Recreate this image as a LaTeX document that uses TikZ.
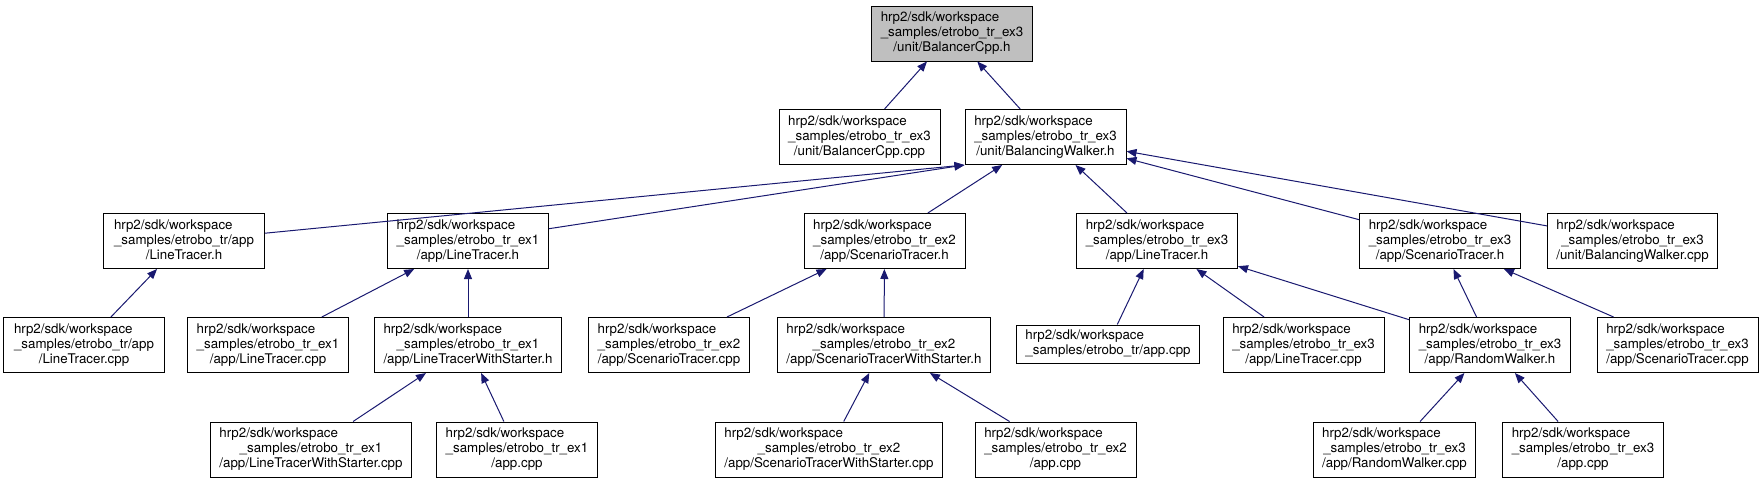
\documentclass[tikz,border=0pt]{standalone}
\usepackage{fontspec}
\setmainfont{TeX Gyre Heros}
\usepackage{tikz}
\usetikzlibrary{arrows.meta}
\usepackage{xcolor}
\definecolor{edgeblue}{RGB}{25,25,112}
\definecolor{rootgray}{RGB}{191,191,191}

% file label: first line flush left, the rest centred
\newcommand{\flbl}[2]{\begin{tabular}{@{}c@{}}\multicolumn{1}{@{}l@{}}{hrp2/sdk/workspace}\\#1\\#2\end{tabular}}

\begin{document}
\begin{tikzpicture}[x=1pt,y=-1pt,
    filebox/.style={draw=black,line width=1pt,fill=white,inner xsep=9pt,inner ysep=2pt,
      minimum width=161pt,minimum height=55pt,font=\fontsize{13.33}{15}\selectfont},
    incl/.style={edgeblue,line width=1pt,-{Triangle[length=10pt,width=8pt]}}]
  \useasboundingbox (0,0) rectangle (1763,483);

  % row 1 and 2
  \node[filebox,fill=rootgray] (balh) at (952,33.5) {\flbl{\_samples/etrobo\_tr\_ex3}{/unit/BalancerCpp.h}};
  \node[filebox] (balcpp) at (859.5,137) {\flbl{\_samples/etrobo\_tr\_ex3}{/unit/BalancerCpp.cpp}};
  \node[filebox] (bwh) at (1045.5,137) {\flbl{\_samples/etrobo\_tr\_ex3}{/unit/BalancingWalker.h}};

  % row 3
  \node[filebox] (trlth) at (184,241) {\flbl{\_samples/etrobo\_tr/app}{/LineTracer.h}};
  \node[filebox] (exalth) at (468,241) {\flbl{\_samples/etrobo\_tr\_ex1}{/app/LineTracer.h}};
  \node[filebox] (exbsth) at (884.5,241) {\flbl{\_samples/etrobo\_tr\_ex2}{/app/ScenarioTracer.h}};
  \node[filebox] (exclth) at (1157,241) {\flbl{\_samples/etrobo\_tr\_ex3}{/app/LineTracer.h}};
  \node[filebox] (excsth) at (1440,241) {\flbl{\_samples/etrobo\_tr\_ex3}{/app/ScenarioTracer.h}};
  \node[filebox] (bwcpp) at (1632.5,241) {\flbl{\_samples/etrobo\_tr\_ex3}{/unit/BalancingWalker.cpp}};

  % row 4
  \node[filebox] (trltcpp) at (84,345) {\flbl{\_samples/etrobo\_tr/app}{/LineTracer.cpp}};
  \node[filebox] (exaltcpp) at (268,345) {\flbl{\_samples/etrobo\_tr\_ex1}{/app/LineTracer.cpp}};
  \node[filebox] (exaltwsh) at (468,345) {\flbl{\_samples/etrobo\_tr\_ex1}{/app/LineTracerWithStarter.h}};
  \node[filebox] (exbstcpp) at (669,345) {\flbl{\_samples/etrobo\_tr\_ex2}{/app/ScenarioTracer.cpp}};
  \node[filebox] (exbstwsh) at (884,345) {\flbl{\_samples/etrobo\_tr\_ex2}{/app/ScenarioTracerWithStarter.h}};
  \node[filebox,minimum height=38pt] (trapp) at (1108,344) {\begin{tabular}{@{}c@{}}\multicolumn{1}{@{}l@{}}{hrp2/sdk/workspace}\\\_samples/etrobo\_tr/app.cpp\end{tabular}};
  \node[filebox] (excltcpp) at (1303.5,345) {\flbl{\_samples/etrobo\_tr\_ex3}{/app/LineTracer.cpp}};
  \node[filebox] (excrwh) at (1490,345) {\flbl{\_samples/etrobo\_tr\_ex3}{/app/RandomWalker.h}};
  \node[filebox] (excstcpp) at (1677.5,345) {\flbl{\_samples/etrobo\_tr\_ex3}{/app/ScenarioTracer.cpp}};

  % row 5
  \node[filebox] (exaltwscpp) at (311,449.5) {\flbl{\_samples/etrobo\_tr\_ex1}{/app/LineTracerWithStarter.cpp}};
  \node[filebox] (exaapp) at (517,449.5) {\flbl{\_samples/etrobo\_tr\_ex1}{/app.cpp}};
  \node[filebox] (exbstwscpp) at (829,449.5) {\flbl{\_samples/etrobo\_tr\_ex2}{/app/ScenarioTracerWithStarter.cpp}};
  \node[filebox] (exbapp) at (1055.5,449.5) {\flbl{\_samples/etrobo\_tr\_ex2}{/app.cpp}};
  \node[filebox] (excrwcpp) at (1394.5,449.5) {\flbl{\_samples/etrobo\_tr\_ex3}{/app/RandomWalker.cpp}};
  \node[filebox] (excapp) at (1583,449.5) {\flbl{\_samples/etrobo\_tr\_ex3}{/app.cpp}};

  % includes
  \draw[incl] (balcpp) -- (balh);
  \draw[incl] (bwh) -- (balh);
  \draw[incl] (trlth) -- (bwh.south west);
  \draw[incl] (exalth) -- (bwh.south west);
  \draw[incl] (exbsth) -- (bwh);
  \draw[incl] (exclth) -- (bwh);
  \draw[incl] (excsth) -- (bwh);
  \draw[incl] (bwcpp) -- (bwh);
  \draw[incl] (trltcpp) -- (trlth);
  \draw[incl] (exaltcpp) -- (exalth);
  \draw[incl] (exaltwsh) -- (exalth);
  \draw[incl] (exbstcpp) -- (exbsth);
  \draw[incl] (exbstwsh) -- (exbsth);
  \draw[incl] (trapp) -- (exclth);
  \draw[incl] (excltcpp) -- (exclth);
  \draw[incl] (excrwh) -- (exclth);
  \draw[incl] (excrwh) -- (excsth);
  \draw[incl] (excstcpp) -- (excsth);
  \draw[incl] (exaltwscpp) -- (exaltwsh);
  \draw[incl] (exaapp) -- (exaltwsh);
  \draw[incl] (exbstwscpp) -- (exbstwsh);
  \draw[incl] (exbapp) -- (exbstwsh);
  \draw[incl] (excrwcpp) -- (excrwh);
  \draw[incl] (excapp) -- (excrwh);
\end{tikzpicture}
\end{document}
